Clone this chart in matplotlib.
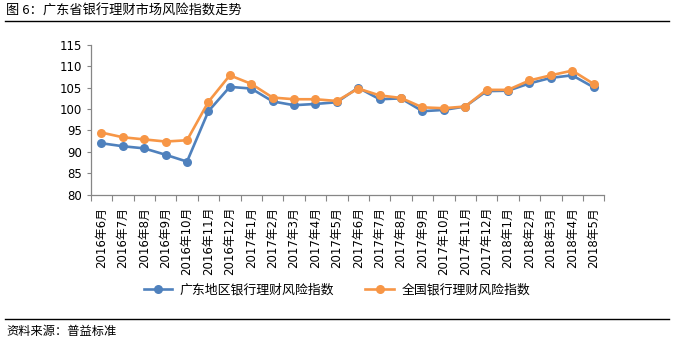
import numpy as np
import matplotlib
matplotlib.use("Agg")
import matplotlib.pyplot as plt
from matplotlib.lines import Line2D

plt.rcParams['font.family'] = ['Noto Sans CJK SC', 'DejaVu Sans']

# 月份
months = ['2016年6月', '2016年7月', '2016年8月', '2016年9月', '2016年10月', '2016年11月',
          '2016年12月', '2017年1月', '2017年2月', '2017年3月', '2017年4月', '2017年5月',
          '2017年6月', '2017年7月', '2017年8月', '2017年9月', '2017年10月', '2017年11月',
          '2017年12月', '2018年1月', '2018年2月', '2018年3月', '2018年4月', '2018年5月']

# 广东地区银行理财风险指数
gd_index = [92.0, 91.3, 90.8, 89.3, 87.7, 99.5, 105.2, 104.8, 101.8, 100.9, 101.2, 101.6,
            105.0, 102.3, 102.5, 99.5, 99.8, 100.6, 104.2, 104.3, 106.0, 107.3, 107.9, 105.1]
# 全国银行理财风险指数
cn_index = [94.5, 93.4, 92.9, 92.4, 92.7, 101.7, 107.9, 105.9, 102.7, 102.3, 102.3, 101.9,
            104.8, 103.2, 102.6, 100.4, 100.2, 100.6, 104.5, 104.5, 106.7, 107.9, 109.0, 105.9]

series_names = ['广东地区银行理财风险指数', '全国银行理财风险指数']
colors = ['#4F81BD', '#F79646']
tick_font = ['DejaVu Sans', 'Noto Sans CJK SC']

fig = plt.figure(figsize=(6.74, 3.45), dpi=100)
ax = fig.add_axes([0.1346, 0.4362, 0.762, 0.4334])

x = np.arange(len(months))
for vals, c, name in zip([gd_index, cn_index], colors, series_names):
    ax.plot(x, vals, color=c, lw=1.9, marker='o', markersize=6.5,
            markeredgewidth=0, label=name)

ax.set_xlim(-0.5, len(months) - 0.5)
ax.set_ylim(80, 115)
ax.set_yticks(range(80, 116, 5))
ax.set_yticklabels([str(v) for v in range(80, 116, 5)], family=tick_font, fontsize=8.5)
ax.tick_params(axis='y', length=3, color='#868686', pad=3)

# 刻度线在类别之间
ax.set_xticks(np.arange(len(months) + 1) - 0.5)
ax.set_xticklabels([])
ax.set_xticks(x, minor=True)
ax.set_xticklabels(months, minor=True, rotation=90, fontsize=8.5, family=tick_font)
ax.tick_params(axis='x', which='major', length=4, color='#868686')
ax.tick_params(axis='x', which='minor', length=0, pad=9)

for s in ['top', 'right']:
    ax.spines[s].set_visible(False)
for s in ['left', 'bottom']:
    ax.spines[s].set_color('#868686')
    ax.spines[s].set_linewidth(0.9)

fig.legend(loc='center', bbox_to_anchor=(0.5, 0.158), ncol=2, frameon=False,
           fontsize=9.3, handlelength=2.2, handletextpad=0.6, columnspacing=2.4)

# 标题和来源
fig.text(0.009, 0.968, '图 6：广东省银行理财市场风险指数走势', fontsize=9.5, va='center', ha='left')
fig.add_artist(Line2D([0.007, 0.993], [0.939, 0.939], color='black', lw=1.0))
fig.add_artist(Line2D([0.007, 0.993], [0.075, 0.075], color='black', lw=1.0))
fig.text(0.009, 0.040, '资料来源：普益标准', fontsize=8.8, va='center', ha='left')

fig.savefig('out.png', dpi=100)
